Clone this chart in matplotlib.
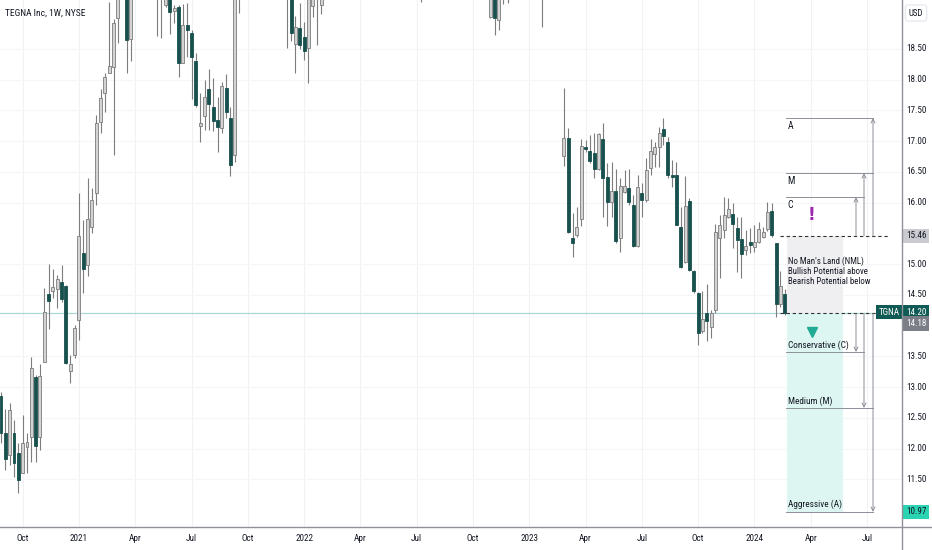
import numpy as np
import pandas as pd
import matplotlib
matplotlib.use("Agg")
import matplotlib.pyplot as plt
from matplotlib.patches import Rectangle
from matplotlib.lines import Line2D
import matplotlib.transforms as mtransforms
from matplotlib import font_manager

# ---------------- data ----------------
first_week = "2020-08-31"   # week index 0
week_no = [0, 1, 2, 3, 4, 5, 6, 7, 8, 9, 10, 11, 12, 13, 14, 15, 16, 17, 18, 19,
           20, 21, 22, 23, 24, 25, 26, 27, 29, 30, 36, 37, 38, 39, 40, 41, 42, 43, 44, 45,
           46, 47, 48, 49, 50, 51, 52, 53, 54, 55, 66, 67, 68, 69, 70, 71, 72, 73, 74, 97,
           113, 114, 115, 116, 117, 125,
           130, 131, 132, 133, 134, 135, 136, 137, 138, 139, 140, 141, 142, 143, 144, 145,
           146, 147, 148, 149, 150, 151, 152, 153, 154, 155, 156, 157, 158, 159, 160, 161,
           162, 163, 164, 165, 166, 167, 168, 169, 170, 171, 172, 173, 174, 175, 176, 177,
           178, 179, 180, 181]
opens = [12.86, 12.25, 11.90, 12.25, 11.93, 11.60, 12.03, 12.19, 13.16, 12.19, 13.41, 14.51, 14.56, 14.59, 14.71, 14.64, 13.26, 13.52, 14.09, 15.18,
         14.99, 15.60, 16.16, 17.31, 17.78, 18.11, 18.20, 19.00, 19.60, 18.66, 19.45, 19.40, 19.21, 19.60, 19.12, 19.18, 18.27, 18.89, 18.76, 18.30,
         17.25, 17.41, 17.85, 17.55, 17.34, 17.21, 17.86, 17.38, 16.77, 19.50, 19.45, 19.60, 18.58, 18.84, 18.69, 18.51, 19.20, 19.50, 19.21, 19.50,
         19.02, 19.60, 18.97, 19.40, 19.45, 19.40,
         16.76, 17.05, 15.42, 15.47, 15.73, 16.90, 16.84, 16.81, 16.55, 17.03, 16.42, 16.01, 16.19, 15.42, 16.17, 16.24,
         15.96, 15.29, 16.16, 16.04, 16.56, 16.79, 16.90, 17.20, 16.99, 16.45, 16.45, 15.60, 15.03, 16.03, 14.89, 14.53,
         13.91, 14.20, 13.98, 14.25, 15.42, 15.55, 15.77, 15.81, 15.59, 15.41, 15.23, 15.36, 15.28, 15.36, 15.44, 15.57,
         15.86, 15.34, 14.35, 14.51]
highs = [12.92, 12.64, 12.74, 12.47, 12.09, 12.55, 12.25, 13.49, 13.20, 13.38, 14.61, 15.00, 14.92, 14.82, 14.99, 14.66, 13.52, 14.01, 16.16, 15.72,
         16.40, 16.24, 17.42, 17.85, 18.11, 19.26, 18.99, 19.70, 19.80, 19.70, 19.90, 19.80, 19.80, 19.80, 19.21, 19.21, 19.23, 19.25, 18.81, 18.43,
         17.78, 17.99, 18.17, 18.03, 17.72, 17.96, 18.09, 17.55, 19.70, 19.90, 19.90, 19.80, 19.03, 19.25, 18.94, 19.70, 19.80, 19.90, 19.80, 19.90,
         19.80, 19.80, 19.80, 19.80, 19.80, 19.80,
         17.86, 17.21, 15.83, 15.93, 17.03, 17.02, 17.10, 17.13, 17.13, 17.29, 16.64, 16.66, 16.55, 16.40, 16.53, 16.55,
         16.12, 16.45, 16.32, 16.72, 17.03, 16.99, 17.23, 17.38, 17.07, 16.69, 16.66, 15.93, 16.43, 16.07, 14.90, 14.55,
         14.56, 14.68, 14.25, 15.65, 15.80, 16.09, 16.07, 15.99, 15.77, 15.77, 15.55, 15.59, 15.64, 15.68, 15.60, 16.01,
         15.99, 15.35, 14.89, 14.60]
lows = [12.09, 11.65, 11.73, 11.54, 11.28, 11.60, 11.60, 11.78, 11.78, 11.98, 13.40, 13.94, 14.45, 14.29, 14.38, 13.37, 13.07, 13.47, 13.77, 14.53,
        14.81, 15.51, 15.96, 17.13, 17.47, 18.10, 16.77, 18.60, 18.11, 18.30, 18.71, 18.68, 19.18, 18.74, 18.92, 18.04, 18.27, 18.37, 17.68, 17.55,
        16.99, 17.18, 17.18, 17.16, 16.82, 17.13, 17.38, 16.43, 16.66, 19.08, 18.51, 18.63, 18.11, 18.50, 18.32, 17.94, 19.02, 18.56, 19.06, 19.26,
        19.00, 18.72, 18.81, 19.23, 19.25, 18.86,
        16.59, 15.50, 15.12, 15.44, 15.62, 16.82, 16.64, 16.40, 16.53, 15.77, 15.62, 15.77, 15.34, 15.20, 16.16, 15.96,
        15.28, 15.28, 15.77, 16.01, 16.45, 16.58, 16.58, 16.94, 16.40, 16.25, 15.63, 14.94, 15.02, 14.89, 14.53, 13.68,
        13.88, 13.75, 13.80, 14.20, 14.77, 15.42, 15.75, 15.26, 14.87, 14.77, 15.15, 15.18, 15.20, 15.34, 15.42, 15.54,
        15.44, 14.14, 14.30, 14.18]
closes = [12.25, 11.83, 12.63, 11.77, 11.49, 12.09, 12.11, 13.31, 12.04, 13.18, 14.22, 14.40, 14.63, 14.76, 14.43, 13.39, 13.38, 13.96, 15.46, 14.92,
          15.73, 16.04, 17.29, 17.70, 18.04, 18.22, 18.92, 19.50, 18.64, 19.50, 19.70, 19.60, 19.60, 19.10, 19.16, 18.27, 18.89, 18.81, 18.37, 17.59,
          17.29, 17.72, 17.60, 17.33, 17.23, 17.90, 17.47, 16.61, 19.50, 19.70, 19.70, 18.76, 18.86, 18.56, 18.46, 19.50, 19.60, 19.70, 19.60, 19.70,
          19.60, 19.00, 19.60, 19.60, 19.65, 19.60,
          17.05, 15.52, 15.34, 15.60, 16.92, 16.87, 16.68, 16.55, 17.12, 16.40, 16.01, 16.19, 15.38, 16.27, 16.27, 16.01,
          15.29, 16.25, 16.04, 16.53, 16.84, 16.90, 17.13, 17.08, 16.45, 16.42, 15.64, 14.95, 15.94, 14.90, 14.56, 13.88,
          14.11, 14.07, 14.20, 15.52, 15.64, 15.80, 15.90, 15.65, 15.39, 15.16, 15.29, 15.31, 15.36, 15.57, 15.52, 15.85,
          15.47, 14.35, 14.64, 14.20]

title = "TEGNA Inc, 1W, NYSE"
ticker = "TGNA"
last_price = 14.20
nml_top = 15.46
nml_low = 14.18
up_names = ["A", "M", "C"]
up_levels = [17.375, 16.48, 16.09]
down_names = ["Conservative (C)", "Medium (M)", "Aggressive (A)"]
down_levels = [13.57, 12.66, 10.97]
price_ticks = [11.5, 12.0, 12.5, 13.0, 13.5, 14.5, 15.0, 16.0, 16.5, 17.0, 17.5, 18.0, 18.5]
nml_text = "No Man's Land (NML)\nBullish Potential above\nBearish Potential below"

# ---------------- style ----------------
installed = {f.name for f in font_manager.fontManager.ttflist}
cands = ["Roboto Condensed", "Liberation Sans Narrow", "Open Sans Condensed",
         "DejaVu Sans Condensed", "Liberation Sans"]
FONT = [c for c in cands if c in installed] + ["DejaVu Sans"]
plt.rcParams["font.family"] = FONT
narrow = FONT[0] not in ("Liberation Sans", "DejaVu Sans")
fs = 1.0 if narrow else 0.88

TXT = "#131722"
BEAR = "#17504c"
BULL_FACE = "#d3d3d3"
BULL_EDGE = "#7d7d7d"
WICK = "#7d7d7d"

W, H = 932, 550
fig = plt.figure(figsize=(W / 100, H / 100), dpi=100)
fig.patch.set_facecolor("white")
ax_w_px, ax_h_px = 902, 527
ax = fig.add_axes([0, (H - ax_h_px) / H, ax_w_px / W, ax_h_px / H])
ax.set_facecolor("white")

bar_px = 4.33
ax.set_xlim(-1 / bar_px, (ax_w_px - 1) / bar_px)
ax.set_ylim(10.725, 19.294)
for s in ax.spines.values():
    s.set_visible(False)
ax.tick_params(axis="y", left=False, labelleft=False)

# month ticks (first weekly bar of each quarter month)
dates = pd.date_range(first_week, periods=215, freq="7D")
tick_pos, tick_lab = [], []
for ms in pd.date_range("2020-10-01", "2024-07-01", freq="QS-JAN"):
    idx = int(np.argmax(dates >= ms))
    tick_pos.append(idx)
    tick_lab.append(str(ms.year) if ms.month == 1 else ms.strftime("%b"))
ax.set_xticks(tick_pos)
ax.set_xticklabels(tick_lab, fontsize=6.6 * fs, color=TXT)
ax.tick_params(axis="x", length=0, pad=5)

# faint grid
for xp in tick_pos:
    ax.axvline(xp, color="#f1f2f5", lw=0.8, zorder=0)
for yp in price_ticks:
    ax.axhline(yp, color="#f5f6f8", lw=0.8, zorder=0)

# current price line
ax.axhline(last_price, color="#a9d9d3", lw=0.9, zorder=1)

# candles
bw = 0.68
for x, o, h, l, c in zip(week_no, opens, highs, lows, closes):
    ax.plot([x, x], [l, h], color=WICK, lw=0.8, zorder=2, solid_capstyle="butt")
    lo, hi = min(o, c), max(o, c)
    hgt = max(hi - lo, 0.03)
    if c >= o:
        ax.add_patch(Rectangle((x - bw / 2, lo), bw, hgt, facecolor=BULL_FACE,
                               edgecolor=BULL_EDGE, lw=0.6, zorder=3))
    else:
        ax.add_patch(Rectangle((x - bw / 2, lo), bw, hgt, facecolor=BEAR,
                               edgecolor=BEAR, lw=0.6, zorder=3))

# ---------------- drawings ----------------
def px2x(px):
    return (px - 1) / bar_px

box_l, box_r = px2x(787), px2x(843)
ax.add_patch(Rectangle((box_l, last_price), box_r - box_l, nml_top - last_price,
                       facecolor="#efeff1", edgecolor="none", zorder=1.5))
ax.add_patch(Rectangle((box_l, down_levels[-1]), box_r - box_l, last_price - down_levels[-1],
                       facecolor="#ddf6f1", edgecolor="none", zorder=1.5))

ax.plot([px2x(780), px2x(890)], [nml_top, nml_top], ls=(0, (3, 2.5)), color="#333333", lw=0.8, zorder=4)
ax.plot([px2x(780), px2x(878)], [last_price, last_price], ls=(0, (3, 2.5)), color="#333333", lw=0.8, zorder=4)

LINE = "#8c8f97"
arrow_x = [px2x(873), px2x(864), px2x(856)]
line_end = [px2x(873), px2x(873), px2x(864)]
line_start = px2x(786)
for name, lvl, ex in zip(up_names, up_levels, line_end):
    ax.plot([line_start, ex], [lvl, lvl], color=LINE, lw=0.7, zorder=4)
    ax.text(line_start + 0.4, lvl - 0.05, name, fontsize=7 * fs, color=TXT, va="top", ha="left", zorder=5)
for lvl, axx in zip(up_levels, arrow_x):
    ax.annotate("", xy=(axx, lvl), xytext=(axx, nml_top),
                arrowprops=dict(arrowstyle="->", color=LINE, lw=0.7, shrinkA=0, shrinkB=0,
                                mutation_scale=7), zorder=4)

down_end = [px2x(864), px2x(873), px2x(873)]
for name, lvl, ex in zip(down_names, down_levels, down_end):
    ax.plot([line_start, ex], [lvl, lvl], color=LINE, lw=0.7, zorder=4)
    ax.text(line_start + 0.4, lvl + 0.04, name, fontsize=6.7 * fs, color=TXT, va="bottom", ha="left", zorder=5)
for lvl, axx in zip(down_levels, [px2x(856), px2x(864), px2x(873)]):
    ax.annotate("", xy=(axx, lvl), xytext=(axx, last_price),
                arrowprops=dict(arrowstyle="->", color=LINE, lw=0.7, shrinkA=0, shrinkB=0,
                                mutation_scale=7), zorder=4)

mid_x = px2x(812)
ax.text(mid_x, 15.79, "!", fontsize=12.5, fontweight="bold", color="#9c27b0",
        ha="center", va="center", zorder=5, family="DejaVu Sans")
ax.plot([mid_x], [13.90], marker="v", markersize=6.5, color="#22ab94", zorder=5)
ax.text(line_start + 0.4, 15.12, nml_text, fontsize=6.4 * fs, color=TXT, va="top", ha="left",
        linespacing=1.1, zorder=5)

# ---------------- price scale ----------------
tr = mtransforms.blended_transform_factory(ax.transAxes, ax.transData)
xlab = 916 / ax_w_px
for p in price_ticks:
    ax.text(xlab, p, f"{p:.2f}", transform=tr, fontsize=6.6 * fs, color=TXT,
            ha="center", va="center", clip_on=False)

def tag(y, text, fc, tc):
    ax.text(xlab, y, text, transform=tr, fontsize=6.6 * fs, color=tc, ha="center", va="center",
            clip_on=False, zorder=10,
            bbox=dict(boxstyle="square,pad=0.3", facecolor=fc, edgecolor="none"))

tag(nml_top, f"{nml_top:.2f}", "#c9cbd0", TXT)
tag(last_price + 0.02, f"{last_price:.2f}", "#0f5a55", "white")
tag(last_price - 0.17, f"{nml_low:.2f}", "#7b7e87", "white")
tag(down_levels[-1], f"{down_levels[-1]:.2f}", "#2ad4b2", TXT)
ax.text(889 / ax_w_px, last_price + 0.02, ticker, transform=tr, fontsize=6.6 * fs, color="white",
        ha="center", va="center", clip_on=False, zorder=10,
        bbox=dict(boxstyle="square,pad=0.3", facecolor="#0f5a55", edgecolor="none"))

fig.text(916 / W, 1 - 13 / H, "USD", fontsize=6.4 * fs, color=TXT, ha="center", va="center",
         bbox=dict(boxstyle="round,pad=0.4,rounding_size=0.3", facecolor="white", edgecolor="#e3e5ea", lw=0.8))

ax.text(5 / ax_w_px, 1 - 13 / ax_h_px, title, transform=ax.transAxes, fontsize=6.8 * fs,
        color=TXT, ha="left", va="center", zorder=10)

# frame lines
fig.add_artist(Line2D([0, 1], [1 - ax_h_px / H] * 2, transform=fig.transFigure, color="#8f9299", lw=1))
fig.add_artist(Line2D([ax_w_px / W] * 2, [0, 1], transform=fig.transFigure, color="#8f9299", lw=1))

fig.savefig("out.png", dpi=100, facecolor="white")
